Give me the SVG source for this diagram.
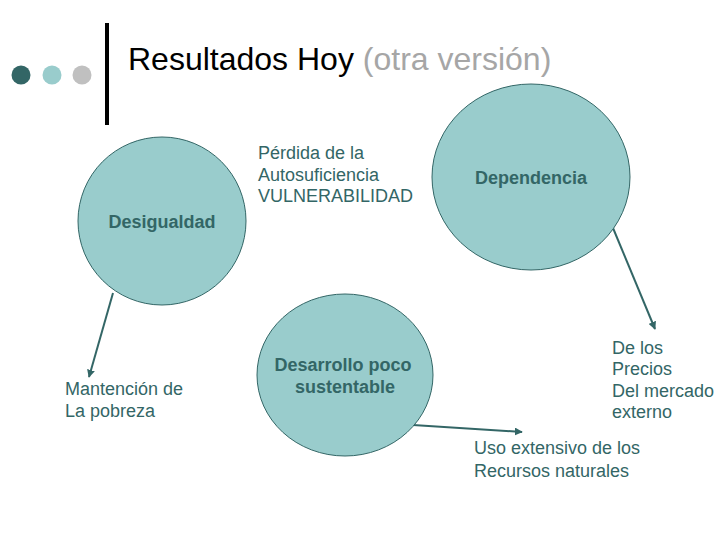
<svg xmlns="http://www.w3.org/2000/svg" width="720" height="540" viewBox="0 0 720 540">
<style>
.t{font-family:"Liberation Sans",Arial,sans-serif;font-size:18px;fill:#336666}
.b{font-weight:bold}
.c{fill:#99CCCC;stroke:#336666;stroke-width:1}
.a{stroke:#336666;stroke-width:2;fill:none;marker-end:url(#ah)}
</style>
<defs>
<marker id="ah" viewBox="0 0 10 10" refX="9" refY="5" markerWidth="4" markerHeight="4" orient="auto" markerUnits="strokeWidth">
<path d="M0,0 L10,5 L0,10 z" fill="#336666"/>
</marker>
</defs>
<rect width="720" height="540" fill="#fff"/>
<g id="header">
<circle cx="21" cy="75" r="9.5" fill="#336666"/>
<circle cx="52" cy="75" r="9.5" fill="#99CCCC"/>
<circle cx="82" cy="75" r="9.5" fill="#C0C0C0"/>
<rect x="105" y="23" width="4" height="102" fill="#000"/>
<text x="128" y="70" font-family="Liberation Sans,Arial,sans-serif" font-size="32" fill="#000">Resultados Hoy <tspan fill="#A6A6A6">(otra versión)</tspan></text>
</g>
<g id="connectors">
<line class="a" x1="113" y1="293" x2="89" y2="377"/>
<line class="a" x1="613" y1="228" x2="655" y2="329"/>
<line class="a" x1="413" y1="425" x2="522" y2="432"/>
</g>
<g id="desigualdad">
<ellipse class="c" cx="162" cy="221" rx="84" ry="84"/>
<text class="t b" x="162" y="228" text-anchor="middle">Desigualdad</text>
</g>
<g id="dependencia">
<ellipse class="c" cx="531" cy="177" rx="99" ry="93"/>
<text class="t b" x="531" y="184" text-anchor="middle">Dependencia</text>
</g>
<g id="desarrollo">
<ellipse class="c" cx="345" cy="375" rx="88" ry="81"/>
<text class="t b" x="343" y="371" text-anchor="middle">Desarrollo poco</text>
<text class="t b" x="345" y="393" text-anchor="middle">sustentable</text>
</g>
<g id="perdida">
<text class="t" x="258" y="159">Pérdida de la</text>
<text class="t" x="258" y="181">Autosuficiencia</text>
<text class="t" x="258" y="202">VULNERABILIDAD</text>
</g>
<g id="mantencion">
<text class="t" x="65" y="395">Mantención de</text>
<text class="t" x="65" y="417">La pobreza</text>
</g>
<g id="precios">
<text class="t" x="612" y="354">De los</text>
<text class="t" x="612" y="375">Precios</text>
<text class="t" x="612" y="397">Del mercado</text>
<text class="t" x="612" y="418">externo</text>
</g>
<g id="uso">
<text class="t" x="474" y="454">Uso extensivo de los</text>
<text class="t" x="474" y="477">Recursos naturales</text>
</g>
</svg>
